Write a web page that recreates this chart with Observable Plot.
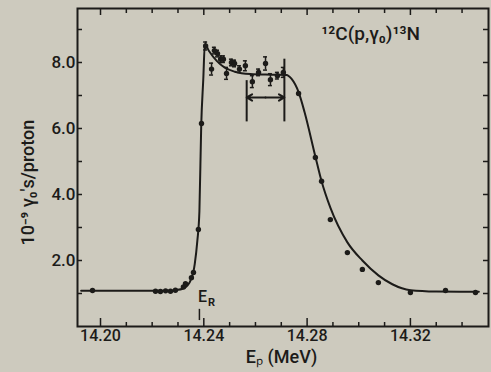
<!DOCTYPE html>
<html><head><meta charset="utf-8">
<script src="https://cdn.jsdelivr.net/npm/d3@7"></script>
<script src="https://cdn.jsdelivr.net/npm/@observablehq/plot@0.6"></script>
<style>
html,body{margin:0;padding:0;background:#cdcabe;}
#chart{width:491px;height:372px;overflow:hidden;}
</style></head><body><div id="chart"></div>
<script>
// Measured points: proton energy (MeV) and yield (1e-9 gammas/proton)
const energy = [14.1969, 14.2213, 14.2232, 14.2252, 14.2271, 14.2290, 14.2321, 14.2329, 14.2352, 14.2360,
  14.2379, 14.2391, 14.2407, 14.2430, 14.2441, 14.2453, 14.2465, 14.2476, 14.2488, 14.2507,
  14.2519, 14.2538, 14.2561, 14.2588, 14.2612, 14.2639, 14.2658, 14.2685, 14.2708, 14.2767,
  14.2832, 14.2856, 14.2890, 14.2956, 14.3014, 14.3076, 14.3200, 14.3336, 14.3452];
const yieldVals = [1.09, 1.07, 1.06, 1.08, 1.07, 1.10, 1.20, 1.30, 1.48, 1.64,
  2.94, 6.15, 8.50, 7.80, 8.36, 8.27, 8.10, 8.10, 7.67, 8.00,
  7.97, 7.80, 7.90, 7.42, 7.70, 7.97, 7.48, 7.60, 7.70, 7.06,
  5.12, 4.40, 3.24, 2.24, 1.73, 1.33, 1.03, 1.09, 1.03];
const errVals = [0, 0, 0, 0, 0, 0, 0, 0, 0, 0,
  0, 0, 0.12, 0.18, 0.10, 0.10, 0.10, 0.10, 0.18, 0.10,
  0.10, 0.10, 0.15, 0.18, 0.10, 0.20, 0.18, 0.10, 0.15, 0,
  0, 0, 0, 0, 0, 0, 0, 0, 0];

// Fitted curve
const curveE = [14.1925, 14.2250, 14.2290, 14.2321, 14.2352, 14.2365, 14.2375, 14.2383, 14.2390, 14.2398,
  14.2404, 14.2420, 14.2450, 14.2480, 14.2520, 14.2580, 14.2660, 14.2720, 14.2740, 14.2767,
  14.2790, 14.2832, 14.2856, 14.2890, 14.2956, 14.3014, 14.3076, 14.3130, 14.3200, 14.3300, 14.3465];
const curveY = [1.08, 1.08, 1.10, 1.15, 1.45, 1.90, 2.60, 3.50, 6.10, 7.50,
  8.55, 8.35, 8.05, 7.85, 7.72, 7.65, 7.63, 7.62, 7.50, 7.10,
  6.50, 5.15, 4.40, 3.60, 2.55, 2.00, 1.55, 1.28, 1.10, 1.06, 1.05];

const xTickLabels = [14.20, 14.24, 14.28, 14.32];
const xMinorTicks = [14.20, 14.21, 14.22, 14.23, 14.24, 14.25, 14.26, 14.27, 14.28, 14.29, 14.30, 14.31, 14.32, 14.33, 14.34];
const yTickLabels = [2, 4, 6, 8];
const yMinorTicks = [1, 2, 3, 4, 5, 6, 7, 8, 9];
const resonanceE = 14.2383;
const bracketL = 14.2566, bracketR = 14.2712;

const titleText = "¹²C(p,γ₀)¹³N";
const xLabel = "Eₚ (MeV)";
const yLabel = "10⁻⁹ γ₀'s/proton";

const pts = energy.map((e, i) => ({e, y: yieldVals[i], err: errVals[i]}));
const errPts = pts.filter(d => d.err > 0);
const curve = curveE.map((e, i) => ({e, y: curveY[i]}));

const ink = "#1c1b19";
const font = "Roboto, 'Liberation Sans', sans-serif";
const X0 = 14.19109, X1 = 14.35024, Y1 = 9.636;
const dx = 0.000387, dy = 0.0303; // data units per pixel

const chart = Plot.plot({
  width: 491, height: 372,
  marginLeft: 77, marginRight: 3, marginTop: 8, marginBottom: 46,
  x: {domain: [X0, X1], axis: null},
  y: {domain: [0, Y1], axis: null},
  style: {background: "transparent", color: ink, fontFamily: font},
  marks: [
    Plot.frame({stroke: ink, strokeWidth: 2}),
    // inward ticks
    Plot.ruleX(xMinorTicks, {y1: 0, y2: d => xTickLabels.some(t => Math.abs(t - d) < 1e-6) ? 8 * dy : 4 * dy, stroke: ink, strokeWidth: 1.5}),
    Plot.ruleX(xMinorTicks, {y1: Y1, y2: d => Y1 - (xTickLabels.some(t => Math.abs(t - d) < 1e-6) ? 7 * dy : 5 * dy), stroke: ink, strokeWidth: 1.5}),
    Plot.ruleY(yMinorTicks, {x1: X0, x2: X0 + 5 * dx, stroke: ink, strokeWidth: 1.5}),
    Plot.ruleY(yMinorTicks, {x1: X1, x2: X1 - 5 * dx, stroke: ink, strokeWidth: 1.5}),
    Plot.axisX(xTickLabels, {tickSize: 0, tickPadding: 3, tickFormat: d => d.toFixed(2), fontSize: 16, fontWeight: 500, label: null, fill: ink}),
    Plot.axisY(yTickLabels, {tickSize: 0, tickPadding: 2, tickFormat: d => d.toFixed(1), fontSize: 17, fontWeight: 500, label: null, fill: ink}),
    // curve
    Plot.line(curve, {x: "e", y: "y", curve: "monotone-x", stroke: ink, strokeWidth: 2}),
    // error bars
    Plot.ruleX(errPts, {x: "e", y1: d => d.y - d.err, y2: d => d.y + d.err, stroke: ink, strokeWidth: 1.5}),
    Plot.ruleY(errPts, {y: d => d.y + d.err, x1: d => d.e - 2 * dx, x2: d => d.e + 2 * dx, stroke: ink, strokeWidth: 1.5}),
    Plot.ruleY(errPts, {y: d => d.y - d.err, x1: d => d.e - 2 * dx, x2: d => d.e + 2 * dx, stroke: ink, strokeWidth: 1.5}),
    Plot.dot(pts, {x: "e", y: "y", r: 2.7, fill: ink, stroke: "none"}),
    // resolution bracket
    Plot.ruleX([bracketL], {y1: 6.2, y2: 7.45, stroke: ink, strokeWidth: 2}),
    Plot.ruleX([bracketR], {y1: 6.2, y2: 8.1, stroke: ink, strokeWidth: 2}),
    Plot.arrow([bracketL, bracketR], {x1: (bracketL + bracketR) / 2, x2: d => d, y1: 6.94, y2: 6.94, headLength: 6, stroke: ink, strokeWidth: 2}),
    // resonance marker
    Plot.ruleX([resonanceE], {y1: 0.18, y2: 0.52, stroke: ink, strokeWidth: 1.5}),
    Plot.text(["E"], {x: resonanceE + 3 * dx, y: 0.9, text: d => d, fontSize: 16, fontWeight: 500, fill: ink}),
    Plot.text(["R"], {x: resonanceE + 12 * dx, y: 0.72, text: d => d, fontSize: 11, fontWeight: 700, fill: ink}),
    // title
    Plot.text([titleText], {x: 14.3046, y: 8.88, text: d => d, fontSize: 19, fontWeight: 500, fill: ink}),
    // axis labels
    Plot.text([xLabel], {x: 14.2701, y: -0.92, text: d => d, fontSize: 18, fontWeight: 500, fill: ink}),
    Plot.text([yLabel], {x: 14.1722, y: 4.36, text: d => d, rotate: -90, fontSize: 18, fontWeight: 500, fill: ink})
  ]
});
document.getElementById("chart").appendChild(chart);
</script></body></html>
